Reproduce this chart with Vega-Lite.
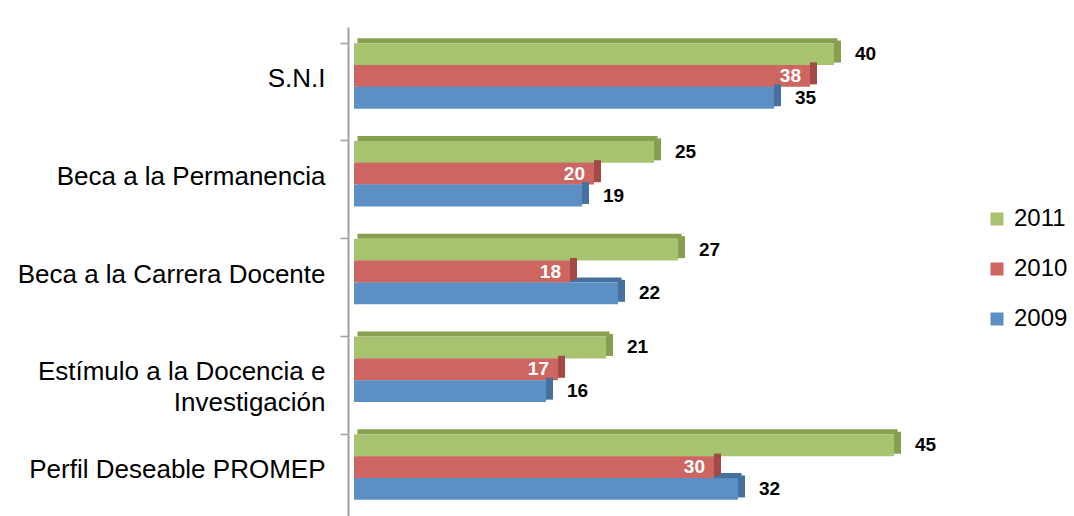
{
  "$schema": "https://vega.github.io/schema/vega-lite/v6.json",
  "width": 600,
  "height": 489,
  "autosize": {"type": "none"},
  "padding": {"left": 354, "top": 27, "right": 120, "bottom": 0},
  "background": "white",
  "config": {"view": {"stroke": null}, "font": "Liberation Sans"},
  "data": {"values": [
    {"cat": "S.N.I", "year": "2011", "value": 40},
    {"cat": "S.N.I", "year": "2010", "value": 38},
    {"cat": "S.N.I", "year": "2009", "value": 35},
    {"cat": "Beca a la Permanencia", "year": "2011", "value": 25},
    {"cat": "Beca a la Permanencia", "year": "2010", "value": 20},
    {"cat": "Beca a la Permanencia", "year": "2009", "value": 19},
    {"cat": "Beca a la Carrera Docente", "year": "2011", "value": 27},
    {"cat": "Beca a la Carrera Docente", "year": "2010", "value": 18},
    {"cat": "Beca a la Carrera Docente", "year": "2009", "value": 22},
    {"cat": "Estímulo a la Docencia e Investigación", "year": "2011", "value": 21},
    {"cat": "Estímulo a la Docencia e Investigación", "year": "2010", "value": 17},
    {"cat": "Estímulo a la Docencia e Investigación", "year": "2009", "value": 16},
    {"cat": "Perfil Deseable PROMEP", "year": "2011", "value": 45},
    {"cat": "Perfil Deseable PROMEP", "year": "2010", "value": 30},
    {"cat": "Perfil Deseable PROMEP", "year": "2009", "value": 32}
  ]},
  "encoding": {
    "y": {
      "field": "cat", "type": "nominal", "sort": null,
      "scale": {"paddingInner": 0.33, "paddingOuter": 0.165},
      "axis": {
        "title": null, "offset": 6, "bandPosition": 0,
        "domainColor": "#A0A0A0", "domainWidth": 2,
        "tickColor": "#A0A0A0", "tickWidth": 1.5, "tickSize": 8,
        "labelFont": "Liberation Sans", "labelFontSize": 26, "labelColor": "#000000", "labelPadding": 15,
        "labelLineHeight": 31, "labelLimit": 400, "labelOffset": 3,
        "labelExpr": "datum.value == 'Estímulo a la Docencia e Investigación' ? ['Estímulo a la Docencia e', 'Investigación\u00a0\u00a0\u00a0\u00a0\u00a0\u00a0\u00a0\u00a0\u00a0\u00a0'] : datum.label"
      }
    },
    "x": {"field": "value", "type": "quantitative", "scale": {"domain": [0, 50]}, "axis": null}
  },
  "resolve": {"scale": {"yOffset": "independent"}, "legend": {"color": "independent", "fill": "independent"}},
  "layer": [
    {
      "mark": {"type": "bar", "height": 5, "xOffset": 3.5},
      "encoding": {
        "yOffset": {"field": "year", "type": "nominal", "sort": ["2011", "2010", "2009"], "scale": {"paddingInner": 0, "paddingOuter": 0, "range": [-13.4, 52.1]}},
        "fill": {
          "field": "year", "type": "nominal",
          "scale": {"domain": ["2011", "2010", "2009"], "range": ["#86A050", "#A24A45", "#46719F"]},
          "legend": null
        }
      }
    },
    {
      "mark": {"type": "bar"},
      "encoding": {
        "yOffset": {"field": "year", "type": "nominal", "sort": ["2011", "2010", "2009"], "scale": {"paddingInner": 0, "paddingOuter": 0}},
        "color": {
          "field": "year", "type": "nominal",
          "scale": {"domain": ["2011", "2010", "2009"], "range": ["#A8C36F", "#CD6660", "#5C90C5"]},
          "legend": {
            "title": null, "orient": "none", "legendX": 631, "legendY": 180,
            "symbolType": "square", "symbolSize": 169, "symbolStrokeWidth": 0,
            "labelFont": "Liberation Sans", "labelFontSize": 24, "labelColor": "#000000", "labelOffset": 5,
            "rowPadding": 26
          }
        }
      }
    },
    {
      "mark": {"type": "tick", "orient": "vertical", "thickness": 7, "size": 22, "xOffset": 3.5, "opacity": 1},
      "encoding": {
        "yOffset": {"field": "year", "type": "nominal", "sort": ["2011", "2010", "2009"], "scale": {"paddingInner": 0, "paddingOuter": 0, "range": [-2.5, 63]}},
        "fill": {
          "field": "year", "type": "nominal",
          "scale": {"domain": ["2011", "2010", "2009"], "range": ["#7A9147", "#8E3F3B", "#3F6694"]},
          "legend": null
        }
      }
    },
    {
      "transform": [{"filter": "datum.year != '2010'"}],
      "mark": {"type": "text", "align": "left", "dx": 21, "fontWeight": "bold", "fontSize": 19, "font": "Liberation Sans Narrow, Liberation Sans", "color": "#000000"},
      "encoding": {
        "yOffset": {"field": "year", "type": "nominal", "sort": ["2011", "2010", "2009"], "scale": {"type": "band", "domain": ["2011", "2010", "2009"], "paddingInner": 0, "paddingOuter": 0}},
        "text": {"field": "value", "type": "quantitative"}
      }
    },
    {
      "transform": [{"filter": "datum.year == '2010'"}],
      "mark": {"type": "text", "align": "right", "dx": -9, "fontWeight": "bold", "fontSize": 19, "font": "Liberation Sans Narrow, Liberation Sans", "color": "#FFFFFF"},
      "encoding": {
        "yOffset": {"field": "year", "type": "nominal", "sort": ["2011", "2010", "2009"], "scale": {"type": "band", "domain": ["2011", "2010", "2009"], "paddingInner": 0, "paddingOuter": 0}},
        "text": {"field": "value", "type": "quantitative"}
      }
    }
  ]
}
